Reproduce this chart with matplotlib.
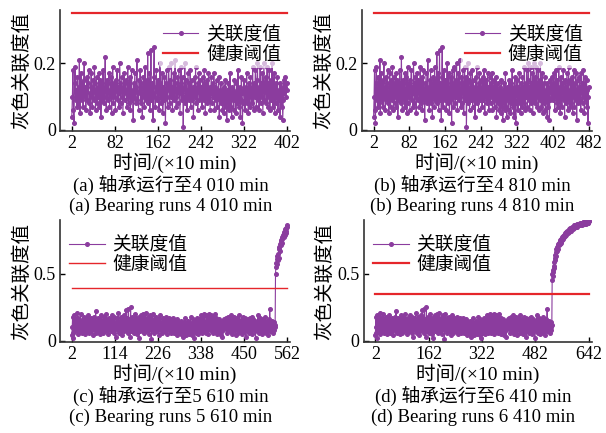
import numpy as np
import matplotlib
matplotlib.use("Agg")
import matplotlib.pyplot as plt

plt.rcParams['font.family'] = ['Liberation Serif', 'Noto Sans CJK SC']
plt.rcParams['axes.unicode_minus'] = False

# 健康阶段的灰色关联度值 (x = 2 ... 531, ×10 min)
health_gra = [
    0.04, 0.10, 0.18, 0.06, 0.02, 0.14, 0.19, 0.09, 0.12, 0.07, 0.16, 0.11, 0.08, 0.13, 0.21, 0.05, 0.12, 0.17, 0.09, 0.14,
    0.11, 0.07, 0.15, 0.20, 0.10, 0.13, 0.06, 0.12, 0.16, 0.09, 0.14, 0.18, 0.08, 0.11, 0.05, 0.13, 0.17, 0.10, 0.07, 0.15,
    0.12, 0.09, 0.19, 0.14, 0.06, 0.11, 0.16, 0.08, 0.13, 0.10, 0.17, 0.07, 0.12, 0.15, 0.04, 0.11, 0.14, 0.09, 0.18, 0.12,
    0.08, 0.13, 0.22, 0.10, 0.06, 0.15, 0.11, 0.09, 0.14, 0.17, 0.07, 0.12, 0.10, 0.16, 0.05, 0.13, 0.19, 0.08, 0.11, 0.14,
    0.10, 0.06, 0.15, 0.12, 0.18, 0.09, 0.13, 0.07, 0.11, 0.20, 0.14, 0.08, 0.12, 0.16, 0.10, 0.05, 0.13, 0.17, 0.09, 0.12,
    0.15, 0.11, 0.07, 0.14, 0.19, 0.10, 0.08, 0.13, 0.16, 0.06, 0.12, 0.18, 0.09, 0.11, 0.03, 0.14, 0.10, 0.17, 0.12, 0.08,
    0.13, 0.21, 0.09, 0.11, 0.06, 0.15, 0.12, 0.18, 0.08, 0.14, 0.10, 0.04, 0.13, 0.16, 0.11, 0.07, 0.19, 0.12, 0.09, 0.15,
    0.10, 0.23, 0.08, 0.13, 0.17, 0.06, 0.12, 0.24, 0.09, 0.14, 0.11, 0.03, 0.16, 0.25, 0.10, 0.07, 0.13, 0.18, 0.12, 0.09,
    0.15, 0.11, 0.06, 0.14, 0.20, 0.10, 0.08, 0.12, 0.17, 0.05, 0.13, 0.09, 0.16, 0.11, 0.02, 0.14, 0.18, 0.10, 0.07, 0.13,
    0.19, 0.12, 0.08, 0.15, 0.10, 0.20, 0.13, 0.06, 0.11, 0.17, 0.09, 0.14, 0.21, 0.10, 0.07, 0.12, 0.16, 0.08, 0.13, 0.18,
    0.11, 0.05, 0.14, 0.19, 0.09, 0.12, 0.16, 0.01, 0.10, 0.13, 0.20, 0.08, 0.15, 0.11, 0.06, 0.12, 0.17, 0.09, 0.14, 0.10,
    0.18, 0.07, 0.12, 0.15, 0.09, 0.13, 0.04, 0.11, 0.16, 0.10, 0.19, 0.08, 0.13, 0.12, 0.06, 0.14, 0.17, 0.09, 0.11, 0.15,
    0.10, 0.13, 0.07, 0.16, 0.12, 0.09, 0.18, 0.11, 0.05, 0.14, 0.10, 0.15, 0.08, 0.12, 0.17, 0.09, 0.13, 0.06, 0.11, 0.16,
    0.12, 0.08, 0.14, 0.10, 0.17, 0.06, 0.11, 0.13, 0.09, 0.15, 0.07, 0.12, 0.10, 0.16, 0.04, 0.11, 0.09, 0.14, 0.08, 0.12,
    0.06, 0.10, 0.13, 0.05, 0.09, 0.15, 0.07, 0.11, 0.03, 0.12, 0.08, 0.14, 0.06, 0.10, 0.17, 0.07, 0.11, 0.04, 0.13, 0.09,
    0.12, 0.06, 0.15, 0.09, 0.11, 0.05, 0.14, 0.08, 0.12, 0.18, 0.07, 0.10, 0.13, 0.04, 0.09, 0.16, 0.11, 0.02, 0.08, 0.12,
    0.15, 0.09, 0.06, 0.13, 0.10, 0.17, 0.08, 0.12, 0.05, 0.14, 0.11, 0.07, 0.16, 0.10, 0.13, 0.08, 0.19, 0.11, 0.06, 0.14,
    0.10, 0.18, 0.12, 0.07, 0.15, 0.20, 0.09, 0.13, 0.06, 0.11, 0.19, 0.08, 0.14, 0.10, 0.17, 0.05, 0.12, 0.20, 0.09, 0.13,
    0.16, 0.08, 0.11, 0.19, 0.07, 0.14, 0.10, 0.18, 0.06, 0.12, 0.15, 0.09, 0.20, 0.11, 0.07, 0.13, 0.17, 0.05, 0.10, 0.14,
    0.08, 0.12, 0.16, 0.06, 0.11, 0.09, 0.14, 0.04, 0.10, 0.13, 0.07, 0.12, 0.03, 0.09, 0.15, 0.11, 0.13, 0.16, 0.10, 0.12,
    0.14, 0.09, 0.17, 0.11, 0.06, 0.13, 0.10, 0.18, 0.08, 0.12, 0.15, 0.07, 0.11, 0.19, 0.09, 0.13, 0.05, 0.12, 0.16, 0.10,
    0.07, 0.14, 0.11, 0.18, 0.09, 0.12, 0.04, 0.15, 0.10, 0.13, 0.08, 0.17, 0.11, 0.06, 0.14, 0.19, 0.09, 0.12, 0.07, 0.15,
    0.11, 0.08, 0.16, 0.12, 0.05, 0.13, 0.18, 0.10, 0.07, 0.14, 0.11, 0.17, 0.09, 0.03, 0.12, 0.15, 0.08, 0.13, 0.10, 0.16,
    0.09, 0.13, 0.06, 0.17, 0.11, 0.14, 0.08, 0.12, 0.18, 0.10, 0.05, 0.13, 0.16, 0.09, 0.11, 0.15, 0.07, 0.12, 0.02, 0.10,
    0.13, 0.08, 0.15, 0.11, 0.19, 0.09, 0.12, 0.06, 0.14, 0.10, 0.17, 0.08, 0.13, 0.11, 0.05, 0.15, 0.09, 0.12, 0.16, 0.07,
    0.11, 0.14, 0.09, 0.18, 0.06, 0.12, 0.10, 0.15, 0.08, 0.13, 0.04, 0.11, 0.16, 0.09, 0.12, 0.24, 0.07, 0.10, 0.13, 0.08,
    0.12, 0.15, 0.09, 0.06, 0.13, 0.11, 0.08, 0.14, 0.10, 0.12,
]

# 退化阶段 (c): x = 532 ... 562
degrade_c = [
    0.50, 0.55, 0.58, 0.61, 0.57, 0.63, 0.60, 0.65, 0.62, 0.68,
    0.70, 0.67, 0.72, 0.74, 0.71, 0.75, 0.73, 0.77, 0.76, 0.79,
    0.78, 0.80, 0.77, 0.81, 0.79, 0.83, 0.80, 0.84, 0.82, 0.86, 0.85,
]

# 退化阶段 (d): x = 532 ... 642
degrade_d = [
    0.45, 0.50, 0.48, 0.53, 0.51, 0.56, 0.54, 0.59, 0.62, 0.60,
    0.64, 0.66, 0.63, 0.68, 0.67, 0.70, 0.69, 0.71, 0.68, 0.72,
    0.73, 0.71, 0.74, 0.72, 0.75, 0.73, 0.76, 0.74, 0.77, 0.75,
    0.76, 0.78, 0.77, 0.76, 0.79, 0.77, 0.78, 0.80, 0.79, 0.78,
    0.80, 0.81, 0.79, 0.80, 0.82, 0.81, 0.80, 0.82, 0.81, 0.83,
    0.82, 0.81, 0.83, 0.82, 0.84, 0.83, 0.82, 0.84, 0.83, 0.85,
    0.84, 0.83, 0.85, 0.84, 0.85, 0.86, 0.84, 0.85, 0.86, 0.85,
    0.86, 0.85, 0.86, 0.87, 0.85, 0.86, 0.87, 0.86, 0.87, 0.86,
    0.87, 0.86, 0.87, 0.88, 0.86, 0.87, 0.88, 0.87, 0.86, 0.88,
    0.87, 0.88, 0.87, 0.88, 0.87, 0.88, 0.89, 0.87, 0.88, 0.88,
    0.87, 0.88, 0.89, 0.88, 0.88, 0.89, 0.88, 0.89, 0.88, 0.89, 0.89,
]

end_time = [402, 482, 562, 642]
thresholds = [0.35, 0.35, 0.39, 0.35]
xtick_step = [80, 80, 112, 160]
ytick_vals = [[0, 0.2], [0, 0.2], [0, 0.5], [0, 0.5]]
ytick_labels = [["0", "0.2"], ["0", "0.2"], ["0", "0.5"], ["0", "0.5"]]
ytop = [0.36, 0.36, 0.90, 0.90]
caption_cn = ["(a) 轴承运行至4 010 min", "(b) 轴承运行至4 810 min",
              "(c) 轴承运行至5 610 min", "(d) 轴承运行至6 410 min"]
caption_en = ["(a) Bearing runs 4 010 min", "(b) Bearing runs 4 810 min",
              "(c) Bearing runs 5 610 min", "(d) Bearing runs 6 410 min"]
legend_loc = ["upper right", "upper right", "upper left", "upper left"]
legend_anchor = [(1.0, 0.94), (1.0, 0.94), (0.0, 0.94), (0.0, 0.94)]

series = [
    health_gra[:401],
    health_gra[:481],
    health_gra + degrade_c,
    health_gra + degrade_d,
]

purple = "#8B3C9E"
red = "#E5262B"

fig = plt.figure(figsize=(6.06, 4.33), dpi=100)
boxes = [
    [0.099, 0.697, 0.380, 0.280],
    [0.597, 0.697, 0.380, 0.280],
    [0.099, 0.210, 0.380, 0.282],
    [0.600, 0.210, 0.377, 0.282],
]

for i in range(4):
    ax = fig.add_axes(boxes[i])
    y = np.array(series[i])
    x = np.arange(2, 2 + len(y))
    ax.plot(x, y, color=purple, lw=0.8, marker="o", ms=2.6, label="关联度值")
    lw_thr = 1.0 if i == 2 else 1.6
    ax.plot([x[0], x[-1]], [thresholds[i]] * 2, color=red, lw=lw_thr, label="健康阈值")

    span = end_time[i] - 2
    ax.set_xlim(2 - 0.055 * span, end_time[i] + 0.015 * span)
    ax.set_ylim(-0.004 * ytop[i] / 0.36, ytop[i])
    ax.set_xticks(np.arange(2, end_time[i] + 1, xtick_step[i]))
    ax.set_yticks(ytick_vals[i])
    ax.set_yticklabels(ytick_labels[i])
    ax.tick_params(direction="in", length=3.5, width=1, labelsize=13, pad=3)

    for s in ["top", "right"]:
        ax.spines[s].set_visible(False)
    for s in ["left", "bottom"]:
        ax.spines[s].set_color("#333333")
        ax.spines[s].set_linewidth(1.2)

    ax.set_xlabel("时间/(×10 min)", fontsize=14, labelpad=0)
    ax.set_ylabel("灰色关联度值", fontsize=14, labelpad=2)
    ax.text(0.48, -0.44, caption_cn[i], transform=ax.transAxes, ha="center", va="center", fontsize=13.5)
    ax.text(0.48, -0.62, caption_en[i], transform=ax.transAxes, ha="center", va="center", fontsize=13.5)

    leg = ax.legend(loc=legend_loc[i], bbox_to_anchor=legend_anchor[i], fontsize=13.5,
                    frameon=True, framealpha=0.65, edgecolor="none", handlelength=1.9,
                    borderpad=0.2, labelspacing=0.15, handletextpad=0.4, borderaxespad=0.3)

fig.savefig("out.png", dpi=100)
